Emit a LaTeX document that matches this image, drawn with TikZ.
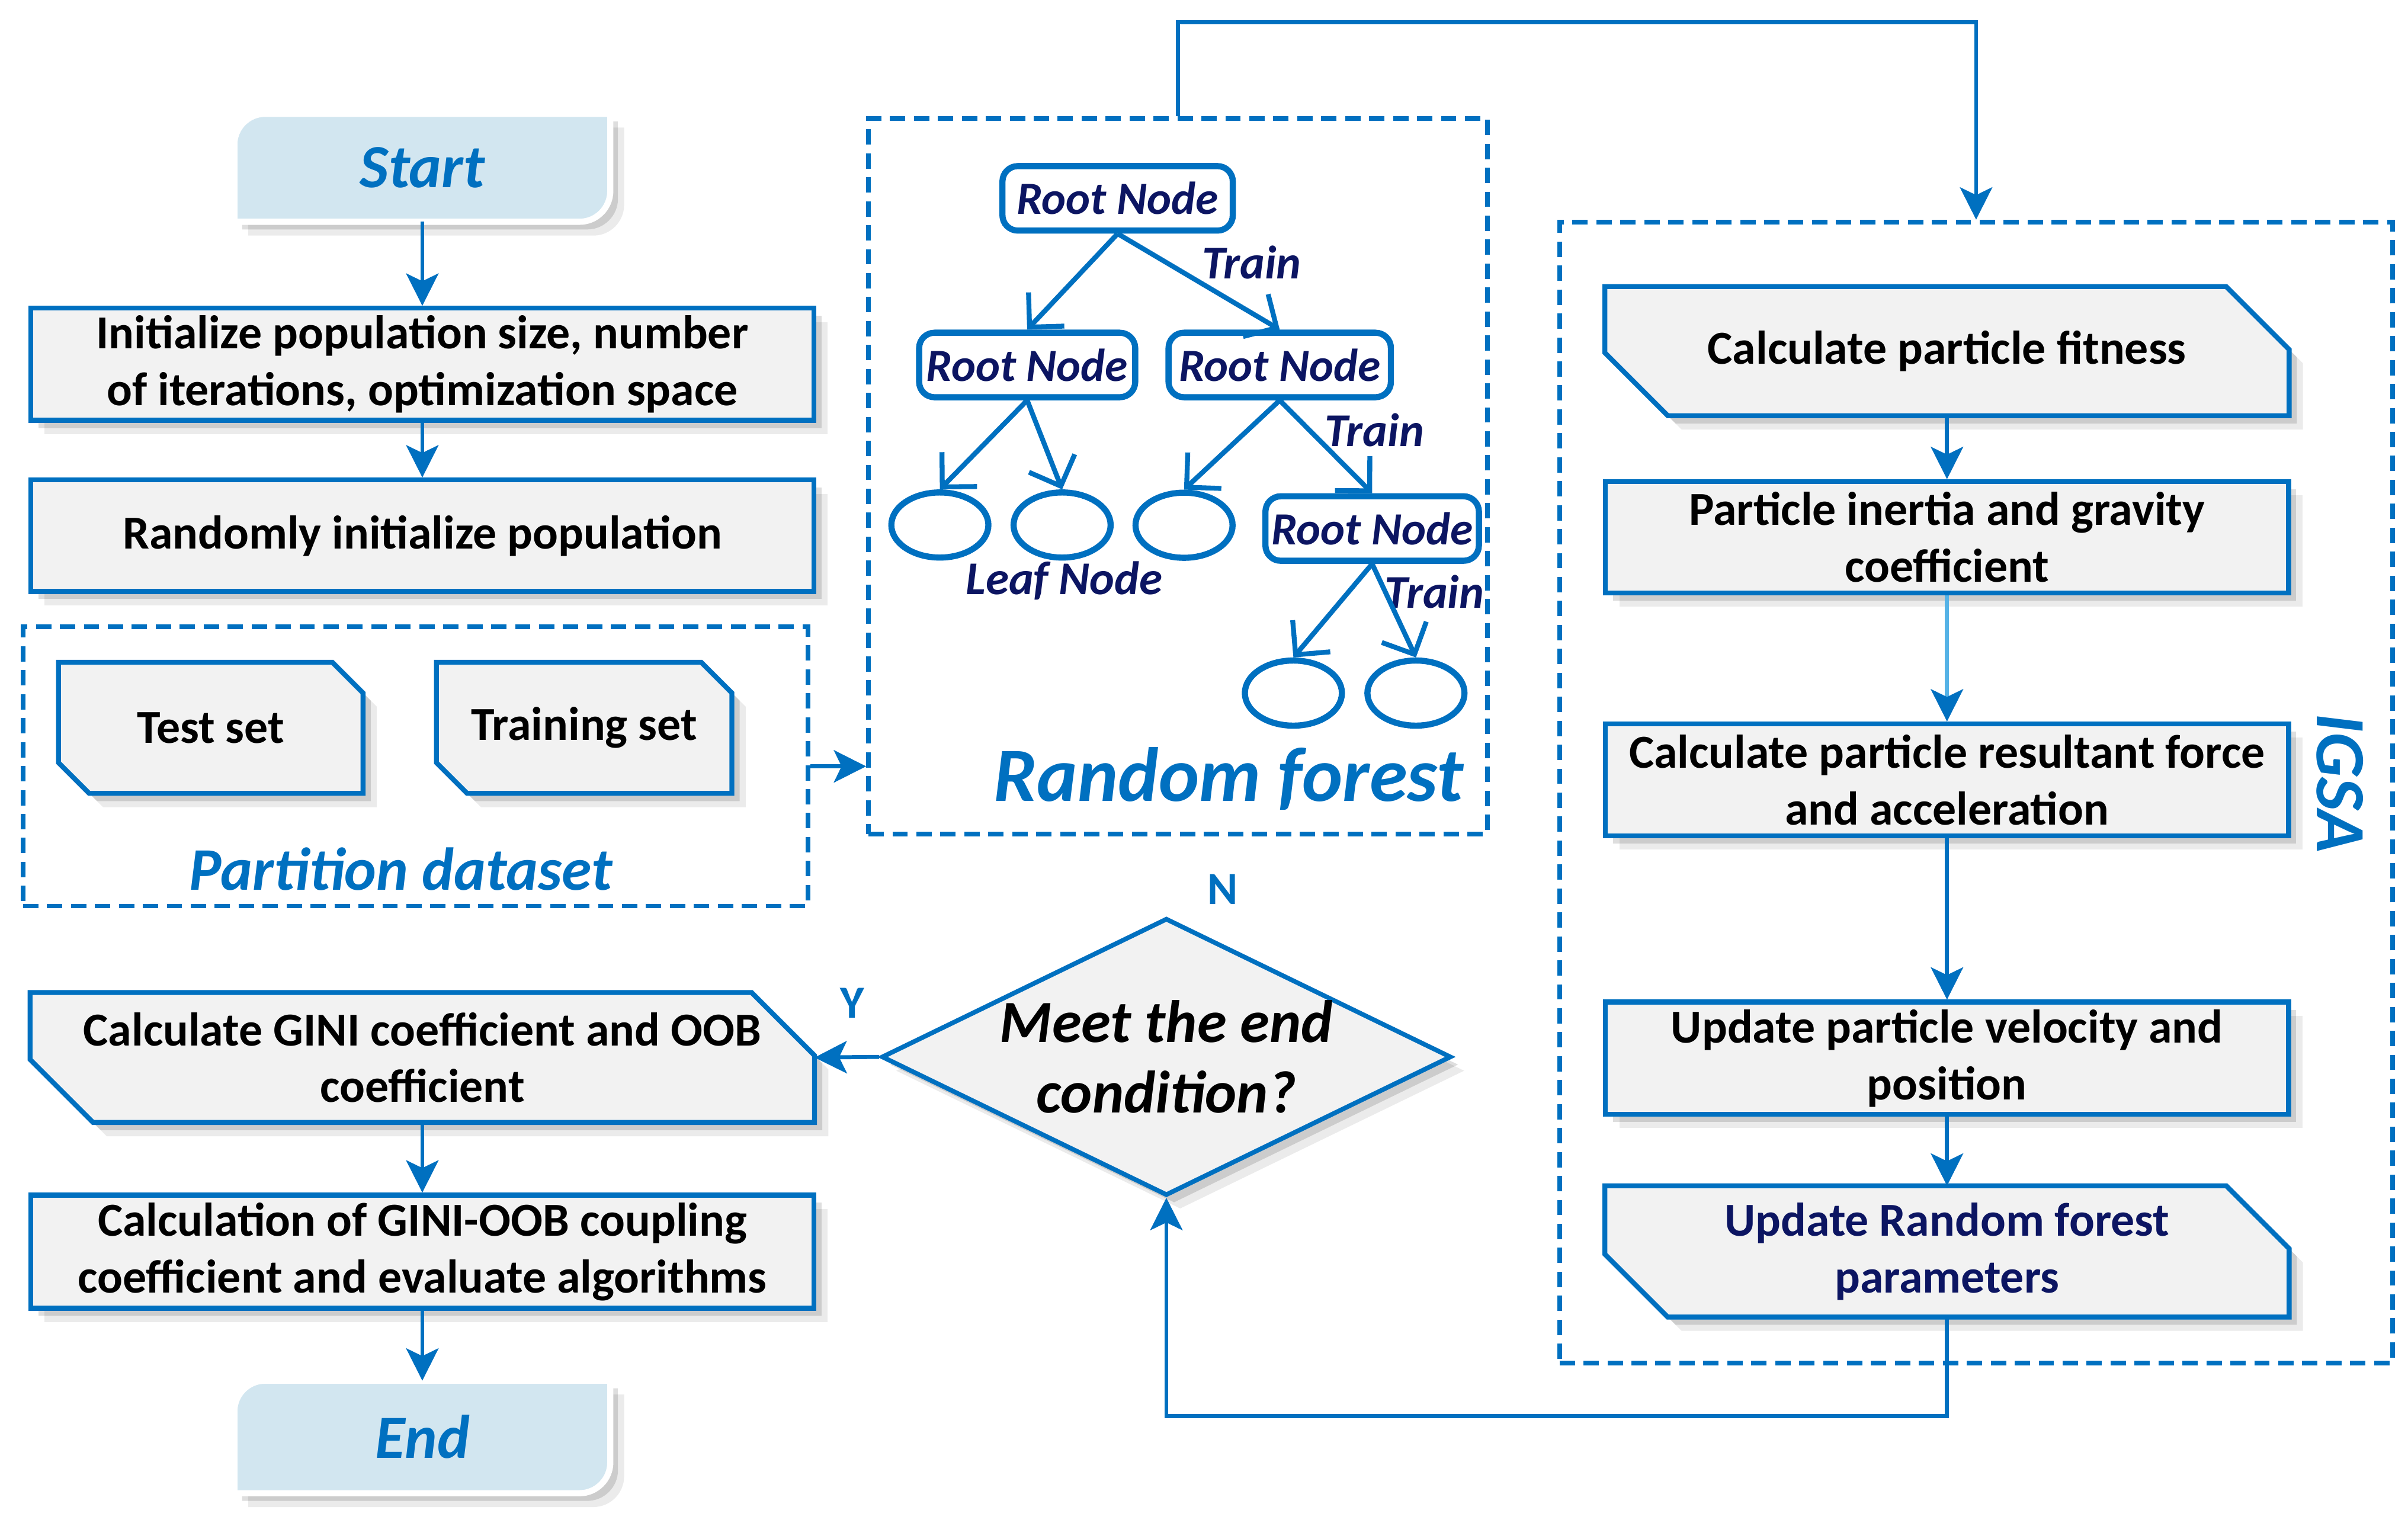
\documentclass[tikz,border=0pt]{standalone}
\usepackage{fontspec}
\setmainfont{Carlito}
\usetikzlibrary{arrows.meta,backgrounds,shapes.geometric}
\definecolor{mblue}{HTML}{0070C0}
\definecolor{lblue}{HTML}{55B2E6}
\definecolor{boxfill}{HTML}{F2F2F2}
\definecolor{termfill}{HTML}{D2E6F0}
\definecolor{navy}{HTML}{0C1562}
\newcommand\termpath[1]{(#1.south west) -- ([shift={(0,20)}]#1.north west) .. controls ([shift={(0,9)}]#1.north west) and ([shift={(9,0)}]#1.north west) .. ([shift={(20,0)}]#1.north west) -- (#1.north east) -- ([shift={(0,-20)}]#1.south east) .. controls ([shift={(0,-9)}]#1.south east) and ([shift={(-9,0)}]#1.south east) .. ([shift={(-20,0)}]#1.south east) -- cycle}
\newcommand\cutpath[2]{(#1.north west) -- ([shift={(-#2,0)}]#1.north east) -- ([shift={(0,#2)}]#1.north east) -- (#1.south east) -- ([shift={(#2,0)}]#1.south west) -- ([shift={(0,-#2)}]#1.south west) -- cycle}
\begin{document}
\begin{tikzpicture}[x=0.5pt,y=-0.5pt,
 sh/.style={preaction={fill=black,opacity=0.08,transform canvas={shift={(4.5pt,-4.5pt)}}},preaction={fill=black,opacity=0.13,transform canvas={shift={(2.5pt,-2.5pt)}}}},
 btxt/.style={font=\bfseries\fontsize{15.4pt}{18.5pt}\selectfont, align=center},
 rbox/.style={rectangle, draw=mblue, line width=1.6pt, fill=boxfill, sh, inner sep=0pt, btxt},
 ghost/.style={rectangle, inner sep=0pt, btxt},
 dbox/.style={rectangle, draw=mblue, line width=1.5pt, dash pattern=on 5pt off 2.8pt, inner sep=0pt},
 conn/.style={draw=mblue, line width=1.3pt, -{Stealth[length=10.5pt,width=10.5pt,inset=2.5pt]}},
 tnode/.style={rectangle, rounded corners=5pt, draw=mblue, line width=2pt, fill=white, inner sep=0pt, text=navy, font=\bfseries\itshape\fontsize{15pt}{17pt}\selectfont, minimum height=21pt},
 leaf/.style={ellipse, draw=mblue, line width=2pt, fill=white, minimum width=31.6pt, minimum height=21.2pt, inner sep=0pt},
 tedge/.style={draw=mblue, line width=1.6pt, -{Straight Barb[length=8pt,width=16pt]}},
 tlab/.style={text=navy, font=\bfseries\itshape\fontsize{15.3pt}{17pt}\selectfont, inner sep=0pt},
 ttl/.style={text=mblue, font=\bfseries\itshape\fontsize{19.7pt}{22pt}\selectfont, inner sep=0pt},
 yn/.style={text=mblue, font=\bfseries\fontsize{15pt}{17pt}\selectfont, inner sep=0pt}
]
\useasboundingbox (0,0) rectangle (1568,991.7);
% dashed groups
\node[dbox, minimum width=255.5pt, minimum height=91pt] (pbox) at (270.5,499) {};
\node[dbox, minimum width=201.5pt, minimum height=233pt] (rfbox) at (767,310) {};
\node[dbox, minimum width=271.25pt, minimum height=371.5pt] (igsa) at (1286.75,516) {};
% left column
\node[ghost, minimum width=122pt, minimum height=34.75pt, text=mblue, font=\bfseries\itshape\fontsize{20pt}{22pt}\selectfont] (start) at (275,109.25) {Start};
\node[rbox, minimum width=255pt, minimum height=36.5pt] (init) at (275,237.2) {Initialize population size, number\\of iterations, optimization space};
\node[rbox, minimum width=255pt, minimum height=36.3pt] (rand) at (275,348.8) {Randomly initialize population};
\node[ghost, minimum width=98.75pt, minimum height=42.3pt] (test) at (137.25,473.9) {Test set};
\node[ghost, minimum width=95.8pt, minimum height=42.3pt] (train) at (380.4,473.9) {Training set};
\node[ttl] (ptitle) at (261,566) {Partition dataset};
\node[ghost, minimum width=255pt, minimum height=41.9pt] (gini) at (275,688.6) {Calculate GINI coefficient and OOB\\coefficient};
\node[rbox, minimum width=255pt, minimum height=36.85pt] (coup) at (275,815) {Calculation of GINI-OOB coupling\\coefficient and evaluate algorithms};
\node[ghost, minimum width=122pt, minimum height=36.25pt, text=mblue, font=\bfseries\itshape\fontsize{20pt}{22pt}\selectfont] (end) at (275,935.65) {End};
% decision
\node[diamond, draw=mblue, line width=1.5pt, fill=boxfill, sh, minimum width=185.5pt, minimum height=90.3pt, inner sep=0pt] (dia) at (759.5,688.2) {};
\node[font=\bfseries\itshape\fontsize{19.5pt}{23pt}\selectfont, align=center, inner sep=0pt] (diatxt) at (759.5,688.2) {Meet the end\\condition?};
\node[yn] (nlab) at (796,579) {N};
\node[yn] (ylab) at (555,653) {Y};
% right column
\node[ghost, minimum width=222.4pt, minimum height=41.65pt] (fit) at (1267.8,228.65) {Calculate particle fitness};
\node[rbox, minimum width=222.4pt, minimum height=36.25pt] (inert) at (1267.8,349.85) {Particle inertia and gravity\\coefficient};
\node[rbox, minimum width=222.4pt, minimum height=36.4pt] (resul) at (1267.8,507.8) {Calculate particle resultant force\\and acceleration};
\node[rbox, minimum width=222.4pt, minimum height=36.55pt] (veloc) at (1267.8,689.05) {Update particle velocity and\\position};
\node[ghost, minimum width=222.4pt, minimum height=42.35pt, text=navy] (updrf) at (1267.8,814.85) {Update Random forest\\parameters};
\node[text=mblue, font=\bfseries\itshape\fontsize{23pt}{26pt}\selectfont, rotate=-90, inner sep=0pt] (igsalab) at (1523.7,510) {IGSA};
% tree
\node[tnode, minimum width=75pt] (rt) at (727.75,129.15) {Root Node};
\node[tnode, minimum width=70.35pt] (rl) at (668.85,237.65) {Root Node};
\node[tnode, minimum width=72.4pt] (rm) at (833.3,237.65) {Root Node};
\node[tnode, minimum width=69.5pt] (rr) at (893.5,344.15) {Root Node};
\node[leaf] (l1) at (612,341.85) {};
\node[leaf] (l2) at (691.6,341.85) {};
\node[leaf] (l3) at (771,342) {};
\node[leaf] (l4) at (842.2,451.3) {};
\node[leaf] (l5) at (922,451.3) {};
\node[tlab] (tr1) at (815,171) {Train};
\node[tlab] (tr2) at (895,280) {Train};
\node[tlab] (tr3) at (934,385.5) {Train};
\node[tlab] (leafl) at (693,378) {Leaf Node};
\node[ttl, font=\bfseries\itshape\fontsize{25pt}{28pt}\selectfont] (rftitle) at (800,507) {Random forest};
\draw[tedge] (rt.south) -- (rl.north);
\draw[tedge] (rt.south) -- (rm.north);
\draw[tedge] (rl.south) -- (l1.north);
\draw[tedge] (rl.south) -- (l2.north);
\draw[tedge] (rm.south) -- (l3.north);
\draw[tedge] (rm.south) -- (rr.north);
\draw[tedge] (rr.south) -- (l4.north);
\draw[tedge] (rr.south) -- (l5.north);
% connectors
\draw[conn] (start) -- (init);
\draw[conn] (init) -- (rand);
\draw[conn] (pbox.east) -- (pbox.east -| rfbox.west);
\draw[conn] (dia.west) -- (gini.east);
\draw[conn] (gini) -- (coup);
\draw[conn] (coup) -- (end);
\draw[conn] (fit) -- (inert);
\draw[conn, draw=lblue, -{Stealth[length=10.5pt,width=10.5pt,inset=2.5pt,color=mblue]}] (inert) -- (resul);
\draw[conn] (resul) -- (veloc);
\draw[conn] (veloc) -- (updrf);
\coordinate (lb) at (759.5,922);
\draw[conn] (updrf.south) |- (lb) -- (dia.south);
\draw[conn] (rfbox.north) -- ++(0,-61) -| (igsa.north);
% shapes behind
\begin{scope}[on background layer]
\fill[white] (0,0) rectangle (1568,991.7);
\path[sh, fill=termfill, draw=white, line width=2pt] \termpath{start};
\path[sh, fill=termfill, draw=white, line width=2pt] \termpath{end};
\path[sh, fill=boxfill, draw=mblue, line width=1.6pt] \cutpath{test}{20};
\path[sh, fill=boxfill, draw=mblue, line width=1.6pt] \cutpath{train}{20};
\path[sh, fill=boxfill, draw=mblue, line width=1.6pt] \cutpath{gini}{41};
\path[sh, fill=boxfill, draw=mblue, line width=1.6pt] \cutpath{fit}{41};
\path[sh, fill=boxfill, draw=mblue, line width=1.6pt] \cutpath{updrf}{41};
\end{scope}
\end{tikzpicture}
\end{document}
